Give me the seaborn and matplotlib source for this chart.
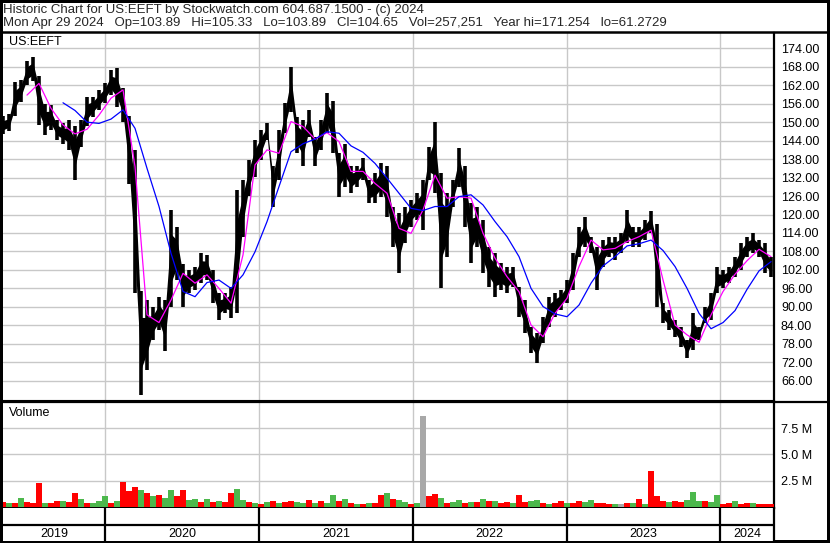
import numpy as np
import pandas as pd
import matplotlib
matplotlib.use('Agg')
import matplotlib.pyplot as plt
import seaborn as sns

# ============================================================
# DATA  (US:EEFT, two-week bars)
# ============================================================

bar_start, bar_end = '2019-05-03', '2024-05-01'

price_hi = [152.0, 152.5, 163.0, 163.7, 170.0, 171.3, 165.0, 156.0, 155.6, 150.7,
            149.6, 150.7, 148.6, 150.7, 158.3, 158.3, 160.5, 162.6, 167.0, 167.5,
            161.0, 152.0, 141.0, 95.0, 92.2, 90.0, 93.3, 92.2, 121.5, 116.0,
            104.0, 102.0, 103.0, 107.4, 106.9, 102.0, 94.4, 94.4, 96.6, 128.0,
            131.2, 137.7, 144.2, 147.5, 149.6, 135.6, 147.5, 156.2, 168.0, 151.8,
            150.7, 154.0, 145.3, 150.7, 159.4, 157.0, 139.9, 143.0, 135.6, 135.6,
            138.2, 131.2, 133.4, 136.6, 135.6, 122.6, 120.4, 122.6, 124.7, 127.0,
            131.2, 142.0, 150.2, 133.4, 126.9, 131.2, 141.5, 135.6, 123.6, 122.6,
            118.2, 109.6, 107.4, 104.2, 103.0, 103.0, 96.6, 92.2, 83.6, 81.4,
            86.8, 93.3, 94.4, 95.5, 98.7, 107.4, 116.0, 119.3, 112.8, 109.6,
            111.7, 112.8, 112.8, 113.9, 121.5, 116.0, 116.0, 118.2, 121.0, 117.0,
            91.1, 88.9, 85.7, 83.6, 79.2, 87.9, 83.6, 90.0, 94.4, 103.0,
            101.9, 103.0, 106.3, 110.7, 112.8, 113.9, 111.7, 110.7, 106.3]

price_lo = [146.0, 147.0, 152.0, 156.6, 162.0, 163.5, 149.0, 145.8, 147.5, 144.2,
            143.0, 141.0, 131.2, 141.8, 148.6, 151.8, 154.0, 156.2, 158.8, 155.0,
            150.0, 130.0, 94.4, 61.3, 69.5, 79.2, 82.5, 75.5, 90.0, 98.7,
            90.0, 94.4, 95.5, 97.7, 98.7, 91.1, 85.7, 87.9, 86.3, 88.0,
            112.8, 126.0, 132.3, 137.7, 144.2, 122.6, 131.2, 146.4, 153.4, 139.9,
            135.6, 145.3, 135.6, 141.0, 146.4, 139.9, 125.8, 129.1, 126.9, 129.1,
            131.2, 123.6, 123.6, 125.8, 119.3, 109.6, 100.9, 110.7, 116.0, 118.2,
            115.0, 131.2, 127.0, 96.2, 106.3, 122.6, 129.1, 116.0, 104.2, 109.6,
            100.9, 96.6, 93.3, 95.5, 94.4, 96.6, 86.8, 81.4, 74.9, 71.7,
            78.2, 83.6, 86.8, 88.9, 91.1, 95.5, 106.3, 109.6, 107.4, 95.5,
            103.0, 106.3, 105.3, 107.4, 110.7, 109.6, 109.6, 111.7, 113.9, 90.0,
            84.6, 82.5, 80.3, 77.1, 73.3, 76.0, 79.2, 84.6, 85.7, 94.4,
            96.0, 97.7, 99.8, 102.0, 106.3, 107.4, 106.3, 100.9, 99.8]

# volume in millions, with direction of the period
volume = [0.5, 0.4, 0.4, 0.9, 0.5, 0.4, 2.3, 0.4, 0.4, 0.6,
          0.6, 0.5, 1.3, 0.8, 0.4, 0.4, 0.6, 1.0, 0.4, 0.6,
          2.4, 1.5, 1.9, 1.6, 1.3, 1.0, 1.1, 0.9, 1.6, 1.0,
          1.6, 0.7, 0.8, 0.5, 0.8, 0.5, 0.6, 0.5, 1.3, 1.7,
          0.7, 0.5, 0.4, 0.3, 0.5, 0.6, 0.4, 0.5, 0.6, 0.5,
          0.4, 0.7, 0.4, 0.6, 0.4, 1.1, 0.6, 0.8, 0.4, 0.3,
          0.3, 0.4, 0.4, 1.1, 1.3, 0.8, 0.7, 0.5, 0.3, 0.4,
          8.7, 1.0, 1.2, 0.9, 0.4, 0.5, 0.7, 0.4, 0.5, 0.5,
          0.8, 0.6, 0.6, 0.4, 0.5, 0.4, 1.1, 0.5, 0.6, 0.7,
          0.4, 0.3, 0.4, 0.6, 0.4, 0.4, 0.6, 0.5, 0.7, 0.4,
          0.4, 0.3, 0.3, 0.3, 0.4, 0.4, 0.8, 0.3, 3.4, 1.0,
          0.6, 0.5, 0.6, 0.5, 0.7, 1.4, 0.6, 0.6, 0.5, 1.1,
          0.3, 0.4, 0.6, 0.3, 0.4, 0.4, 0.3, 0.3, 0.3]

direction = ['d', 'u', 'd', 'u', 'd', 'd', 'd', 'u', 'd', 'd',
             'u', 'd', 'd', 'u', 'd', 'u', 'u', 'u', 'd', 'u',
             'd', 'd', 'd', 'u', 'd', 'u', 'd', 'u', 'u', 'd',
             'd', 'u', 'u', 'd', 'u', 'd', 'u', 'd', 'd', 'u',
             'u', 'd', 'u', 'd', 'u', 'd', 'u', 'd', 'd', 'u',
             'u', 'd', 'u', 'd', 'u', 'u', 'd', 'u', 'd', 'u',
             'd', 'u', 'd', 'd', 'u', 'd', 'u', 'u', 'd', 'u',
             'f', 'd', 'd', 'u', 'd', 'u', 'u', 'd', 'u', 'd',
             'u', 'd', 'u', 'd', 'd', 'u', 'd', 'd', 'u', 'u',
             'd', 'u', 'd', 'd', 'u', 'd', 'd', 'u', 'u', 'd',
             'd', 'd', 'u', 'f', 'd', 'u', 'd', 'u', 'd', 'd',
             'd', 'u', 'd', 'd', 'u', 'u', 'u', 'd', 'u', 'u',
             'd', 'd', 'u', 'd', 'd', 'u', 'd', 'd', 'd']

# moving averages read every ~4 weeks
ma_fast = [np.nan, np.nan, 158.8, 162.6, 154.5, 149.1, 146.2, 147.7, 152.3, 157.8,
           160.5, 135.6, 87.4, 84.9, 92.2, 100.9, 97.7, 100.4, 96.0, 91.2,
           106.9, 136.1, 141.0, 139.9, 150.2, 148.6, 144.5, 146.6, 143.7, 134.0,
           134.0, 130.1, 126.9, 115.5, 113.9, 121.5, 132.8, 125.3, 125.8, 125.3,
           113.9, 105.8, 99.8, 94.9, 84.1, 80.3, 87.9, 92.8, 103.1, 111.7,
           108.5, 109.0, 111.2, 112.8, 114.9, 98.7, 84.1, 80.9, 78.5, 87.4,
           95.0, 100.6, 105.0, 108.7, 106.3]

ma_slow = [np.nan, np.nan, np.nan, np.nan, np.nan, 156.3, 153.8, 150.0, 149.6, 151.0,
           154.0, 148.0, 135.0, 122.6, 107.4, 95.0, 93.3, 97.9, 98.7, 96.0,
           100.4, 107.9, 117.7, 129.1, 140.4, 143.0, 144.5, 146.9, 146.4, 142.3,
           140.2, 136.6, 131.8, 126.9, 122.0, 121.3, 122.6, 122.6, 125.8, 126.4,
           123.1, 117.7, 112.8, 106.3, 96.0, 90.1, 87.7, 86.8, 90.6, 97.7,
           103.3, 106.3, 109.8, 110.5, 111.7, 108.3, 103.1, 96.0, 87.9, 82.9,
           84.9, 88.8, 95.7, 101.7, 104.7]

price_ticks = [66, 72, 78, 84, 90, 96, 102, 108, 114, 120, 126, 132, 138,
               144, 150, 156, 162, 168, 174]
volume_ticks = [2.5, 5.0, 7.5]
years = [2019, 2020, 2021, 2022, 2023, 2024]

header_1 = 'Historic Chart for US:EEFT by Stockwatch.com 604.687.1500 - (c) 2024'
header_2 = ('Mon Apr 29 2024   Op=103.89   Hi=105.33   Lo=103.89   Cl=104.65   '
            'Vol=257,251   Year hi=171.254   lo=61.2729')

# ============================================================
# FRAMES
# ============================================================

bars = pd.DataFrame({
    'date': pd.date_range(bar_start, bar_end, periods=len(price_hi)),
    'hi': price_hi, 'lo': price_lo, 'vol': volume, 'dir': direction,
})
ma = pd.DataFrame({
    'date': pd.date_range(bar_start, bar_end, periods=len(ma_fast)),
    'fast': ma_fast, 'slow': ma_slow,
})

vol_colors = {'u': '#4cb84c', 'd': '#ff0000', 'f': '#a8a8a8'}

# ============================================================
# PLOT
# ============================================================

sns.set_theme(style='white')
plt.rcParams['font.family'] = ['Liberation Sans', 'DejaVu Sans']

W, H = 830, 543
fig = plt.figure(figsize=(W / 100, H / 100), dpi=100,
                 edgecolor='black', linewidth=3)


def box(x0, y0, x1, y1):
    return [x0 / W, 1 - y1 / H, (x1 - x0) / W, (y1 - y0) / H]


ax_p = fig.add_axes(box(3, 33, 774, 400))
ax_v = fig.add_axes(box(3, 402, 774, 508), sharex=ax_p)
ax_t = fig.add_axes(box(3, 508, 774, 541), sharex=ax_p)

xmin, xmax = pd.Timestamp('2019-05-03'), pd.Timestamp('2024-05-08')
year_starts = [pd.Timestamp(f'{y}-01-01') for y in years[1:]]
grid_c = '#c8c8c8'

# ---------- price panel ----------
# narrow ribbon joining the bars, then the hi-lo bars on top
mid = (bars['hi'] + bars['lo']) / 2
ax_p.fill_between(bars['date'], (bars['lo'] + mid) / 2, (bars['hi'] + mid) / 2,
                  color='black', linewidth=0, zorder=3)
ax_p.vlines(bars['date'], bars['lo'], bars['hi'], color='black',
            linewidth=2.6, zorder=3)
fast = ma.dropna(subset=['fast'])
slow = ma.dropna(subset=['slow'])
sns.lineplot(data=fast, x='date', y='fast', ax=ax_p, color='#ff00ff',
             linewidth=0.9, zorder=4)
sns.lineplot(data=slow, x='date', y='slow', ax=ax_p, color='#0000ff',
             linewidth=0.9, zorder=4)

ax_p.set_xlim(xmin, xmax)
ax_p.set_ylim(59.74, 178.97)
ax_p.set_xticks(year_starts)
ax_p.set_yticks(price_ticks)
ax_p.set_yticklabels([f'{t:.2f}' for t in price_ticks])
ax_p.yaxis.tick_right()
ax_p.tick_params(axis='y', length=0, pad=5, labelsize=9, colors='black')
ax_p.tick_params(axis='x', length=0, labelbottom=False)
ax_p.grid(True, color=grid_c, linewidth=1)
ax_p.set_xlabel('')
ax_p.set_ylabel('')
for s in ['left', 'top']:
    ax_p.spines[s].set_visible(False)
ax_p.spines['right'].set_color('black')
ax_p.spines['right'].set_linewidth(1.6)
ax_p.spines['bottom'].set_color('black')
ax_p.spines['bottom'].set_linewidth(0.8)
ax_p.text(0.008, 0.992, 'US:EEFT', transform=ax_p.transAxes, ha='left',
          va='top', fontsize=9, color='black')

# ---------- volume panel ----------
ax_v.bar(bars['date'], bars['vol'], width=14.3,
         color=[vol_colors[d] for d in bars['dir']], linewidth=0, zorder=3)
ax_v.set_ylim(-0.1, 10.0)
ax_v.set_yticks(volume_ticks)
ax_v.set_yticklabels([f'{t:.1f} M' for t in volume_ticks])
ax_v.yaxis.tick_right()
ax_v.tick_params(axis='y', length=0, pad=5, labelsize=9, colors='black')
ax_v.tick_params(axis='x', length=0, labelbottom=False)
ax_v.grid(True, color=grid_c, linewidth=1)
ax_v.spines['left'].set_visible(False)
for s in ['top', 'right', 'bottom']:
    ax_v.spines[s].set_color('black')
    ax_v.spines[s].set_linewidth(1.6)
ax_v.text(0.008, 0.95, 'Volume', transform=ax_v.transAxes, ha='left',
          va='top', fontsize=9, color='black')

# ---------- year strip ----------
ax_t.set_ylim(0, 1)
ax_t.set_yticks([])
ax_t.tick_params(axis='x', length=0, labelbottom=False)
ax_t.axhline(0.47, color='black', linewidth=1.6)
for d in year_starts:
    ax_t.axvline(d, color='black', linewidth=1.6)
bounds = [xmin] + year_starts + [xmax]
for y, a, b in zip(years, bounds[:-1], bounds[1:]):
    centre = a + (b - a) / 2
    ax_t.text(centre, 0.2, str(y), ha='center', va='center', fontsize=9,
              color='black')
for s in ['left', 'top', 'bottom']:
    ax_t.spines[s].set_visible(False)
ax_t.spines['right'].set_color('black')
ax_t.spines['right'].set_linewidth(1.6)

# ---------- header and separators ----------
fig.text(3 / W, 1 - 12.5 / H, header_1, ha='left', va='baseline', fontsize=9.5)
fig.text(3 / W, 1 - 26 / H, header_2, ha='left', va='baseline', fontsize=9.5)
fig.add_artist(plt.Line2D([0, 1], [1 - 32 / H] * 2, transform=fig.transFigure,
                          color='black', linewidth=1.8))
fig.add_artist(plt.Line2D([774 / W, 1], [1 - 402 / H] * 2,
                          transform=fig.transFigure, color='black',
                          linewidth=1.6))

fig.savefig('out.png', dpi=100)
